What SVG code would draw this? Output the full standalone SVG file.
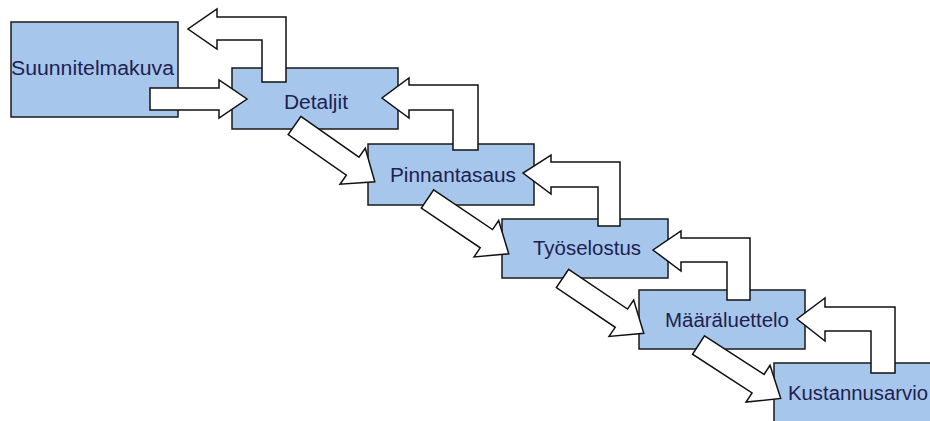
<svg xmlns="http://www.w3.org/2000/svg" xmlns:xlink="http://www.w3.org/1999/xlink" width="930" height="421" viewBox="0 0 930 421">
<style>
.box{fill:#a7c6ec;stroke:#1a1a1a;stroke-width:1.5}
.lbl{font-family:"Liberation Sans",Arial,sans-serif;font-size:20px;fill:#1d2150}
.arrow{fill:#ffffff;stroke:#111111;stroke-width:1.5;stroke-linejoin:miter}
</style>
<defs>
<path id="diag" d="M0,-11 H71 V-22 L98,0 L71,22 V11 H0 Z"/>
</defs>
<rect width="930" height="421" fill="#ffffff"/>
<g id="suunnitelmakuva">
<rect class="box" x="11" y="22" width="167" height="95"/>
<text class="lbl" x="11" y="75" textLength="163" lengthAdjust="spacingAndGlyphs">Suunnitelmakuva</text>
</g>
<g id="detaljit">
<rect class="box" x="232" y="68" width="166" height="61"/>
<text class="lbl" x="284" y="109" textLength="64" lengthAdjust="spacingAndGlyphs">Detaljit</text>
</g>
<g id="pinnantasaus">
<rect class="box" x="368" y="144" width="166" height="61"/>
<text class="lbl" x="390" y="182" textLength="126" lengthAdjust="spacingAndGlyphs">Pinnantasaus</text>
</g>
<g id="tyoselostus">
<rect class="box" x="502" y="219" width="166" height="59"/>
<text class="lbl" x="533" y="255" textLength="108" lengthAdjust="spacingAndGlyphs">Työselostus</text>
</g>
<g id="maaraluettelo">
<rect class="box" x="639" y="290" width="166" height="59"/>
<text class="lbl" x="665" y="327" textLength="124" lengthAdjust="spacingAndGlyphs">Määräluettelo</text>
</g>
<g id="kustannusarvio">
<rect class="box" x="774" y="363" width="170" height="70"/>
<text class="lbl" x="788" y="400" textLength="140" lengthAdjust="spacingAndGlyphs">Kustannusarvio</text>
</g>
<g id="connectors">
<polygon class="arrow" points="150,88 219,88 219,80 247,99 219,118 219,110 150,110"/>
<polygon class="arrow" points="262,82 262,40 217,40 217,49 188,29 217,9 217,17 286,17 286,82"/>
<polygon class="arrow" points="453,150 453,110 409,110 409,118 382,98 409,78 409,85 478,85 478,150"/>
<polygon class="arrow" points="598,226 598,187 551,187 551,194 523,173 551,155 551,162 620,162 620,226"/>
<polygon class="arrow" points="727,300 727,262 681,262 681,271 653,250 681,231 681,238 750,238 750,300"/>
<polygon class="arrow" points="871,373 871,331 825,331 825,341 797,319 825,298 825,307 895,307 895,373"/>
<use class="arrow" xlink:href="#diag" transform="translate(294.5,125.5) rotate(35)"/>
<use class="arrow" xlink:href="#diag" transform="translate(427.5,199) rotate(34)"/>
<use class="arrow" xlink:href="#diag" transform="translate(562.5,278.5) rotate(34)"/>
<use class="arrow" xlink:href="#diag" transform="translate(698.5,345) rotate(33)"/>
</g>
</svg>
